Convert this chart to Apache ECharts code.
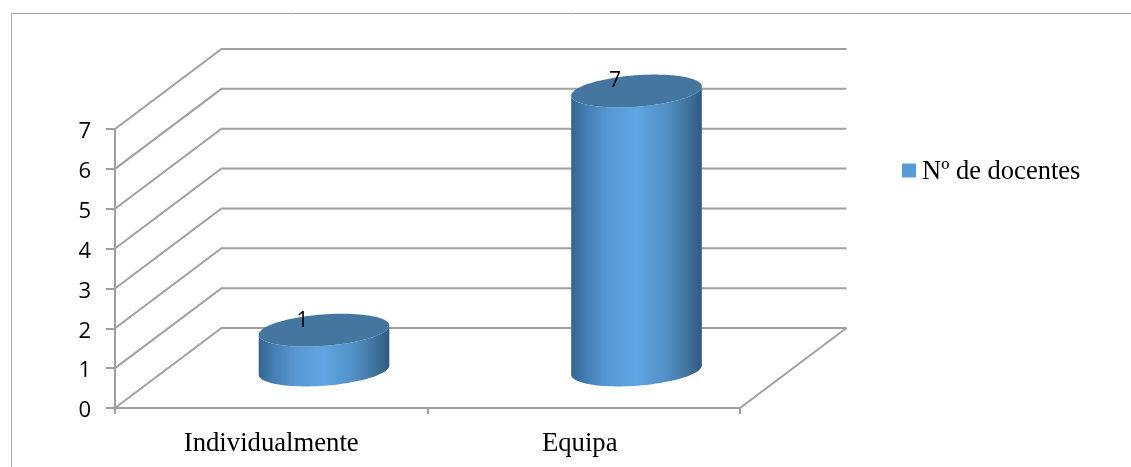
<!DOCTYPE html>
<html>
<head>
<meta charset="utf-8">
<style>html,body{margin:0;padding:0;background:#fff}#c{width:1131px;height:467px}</style>
<script src="https://cdn.jsdelivr.net/npm/echarts@6/dist/echarts.min.js"></script>
</head>
<body>
<div id="c"></div>
<script>
var categories = ['Individualmente', 'Equipa'];
var docentes = [1, 7];
var valueTicks = [0, 1, 2, 3, 4, 5, 6, 7];
var seriesName = 'Nº de docentes';

var DX = 106.5, DY = -80;
var LINE = '#a0a0a0';
var RX = 65.5, RY = 15.7, TILT = -0.075;

function ellipsePts(cx, cy, from, to, n) {
  var pts = [], c = Math.cos(TILT), s = Math.sin(TILT);
  for (var i = 0; i <= n; i++) {
    var t = from + (to - from) * i / n;
    var x = RX * Math.cos(t), y = RY * Math.sin(t);
    pts.push([cx + x * c - y * s, cy + x * s + y * c]);
  }
  return pts;
}

function renderWall(params, api) {
  var cs = params.coordSys;
  var y = api.coord([0, api.value(1)])[1];
  var x0 = cs.x, x1 = cs.x + cs.width;
  var style = { stroke: LINE, lineWidth: 2, fill: null };
  var kids = [
    { type: 'polyline', shape: { points: [[x0, y], [x0 + DX, y + DY], [x1 + DX, y + DY]] }, style: style }
  ];
  if (api.value(1) === 0) {
    kids.push({ type: 'line', shape: { x1: x1, y1: y, x2: x1 + DX, y2: y + DY }, style: style });
  }
  return { type: 'group', children: kids };
}

function renderCylinder(params, api) {
  var idx = api.value(0), v = api.value(1);
  var top = api.coord([idx, v]), base = api.coord([idx, 0]);
  var cx = top[0] + DX / 2 - 0.5;
  var shiftY = DY / 2 + 2;
  var cyT = top[1] + shiftY, cyB = base[1] + shiftY;
  var lower = ellipsePts(cx, cyB, Math.PI, 0, 48);
  var upper = ellipsePts(cx, cyT, 0, Math.PI, 48);
  var body = lower.concat(upper);
  var lid = ellipsePts(cx, cyT, 0, Math.PI * 2, 96);
  return {
    type: 'group',
    children: [
      { type: 'polygon', shape: { points: body }, style: {
        fill: new echarts.graphic.LinearGradient(0, 0, 1, 0, [
          { offset: 0, color: '#35648e' },
          { offset: 0.12, color: '#4580b5' },
          { offset: 0.28, color: '#5797d2' },
          { offset: 0.5, color: '#60a5e3' },
          { offset: 0.72, color: '#5290c8' },
          { offset: 0.88, color: '#42769f' },
          { offset: 1, color: '#305a80' }
        ])
      } },
      { type: 'polygon', shape: { points: lid }, style: { fill: '#44769f' } },
      { type: 'text', style: {
        text: String(v), x: cx - 21.5, y: cyT - 9.5, align: 'center', verticalAlign: 'middle',
        font: '21px "Open Sans"', fill: '#000'
      } }
    ]
  };
}

var chart = echarts.init(document.getElementById('c'), null, { renderer: 'canvas' });
chart.setOption({
  animation: false,
  backgroundColor: '#fff',
  graphic: [{
    type: 'polyline', silent: true,
    shape: { points: [[11.5, 467], [11.5, 13.5], [1131, 13.5]] },
    style: { stroke: '#a6a6a6', lineWidth: 1, fill: null }
  }],
  legend: {
    data: [seriesName],
    left: 897, top: 154,
    icon: 'rect', itemWidth: 14, itemHeight: 14, itemGap: 0,
    formatter: '{t|{name}}',
    textStyle: {
      color: '#000', padding: [0, 0, 0, 1],
      rich: { t: { fontFamily: 'Liberation Serif', fontSize: 26.5, color: '#000', padding: [4, 0, 0, 0] } }
    }
  },
  grid: { left: 115, top: 129, width: 625, height: 279, containLabel: false },
  xAxis: {
    type: 'category',
    data: categories.map(function (name, i) {
      return i === 1 ? { value: name, textStyle: { padding: [0, 8, 0, 0] } } : name;
    }),
    axisLine: { show: true, lineStyle: { color: LINE, width: 2 } },
    axisTick: { show: true, alignWithLabel: false, length: 6, lineStyle: { color: LINE, width: 2 } },
    axisLabel: { margin: 22, fontFamily: 'Liberation Serif', fontSize: 26.7, color: '#000' },
    splitLine: { show: false }
  },
  yAxis: {
    type: 'value', min: 0, max: 7, interval: 1,
    axisLine: { show: true, lineStyle: { color: LINE, width: 2 } },
    axisTick: { show: true, length: 9, lineStyle: { color: LINE, width: 2 } },
    axisLabel: {
      margin: 24, color: '#000',
      formatter: function (v) { return '{n|' + v + '}'; },
      rich: { n: { fontFamily: 'Open Sans', fontSize: 22, color: '#000', padding: [6, 0, 0, 0] } }
    },
    splitLine: { show: false }
  },
  series: [
    {
      type: 'custom', name: 'walls', silent: true, z: 1,
      renderItem: renderWall,
      data: valueTicks.map(function (t) { return [0, t]; })
    },
    {
      type: 'custom', name: seriesName, z: 3,
      itemStyle: { color: '#5b9bd5' },
      renderItem: renderCylinder,
      encode: { x: 0, y: 1 },
      data: docentes.map(function (v, i) { return [i, v]; })
    }
  ]
});
</script>
</body>
</html>
